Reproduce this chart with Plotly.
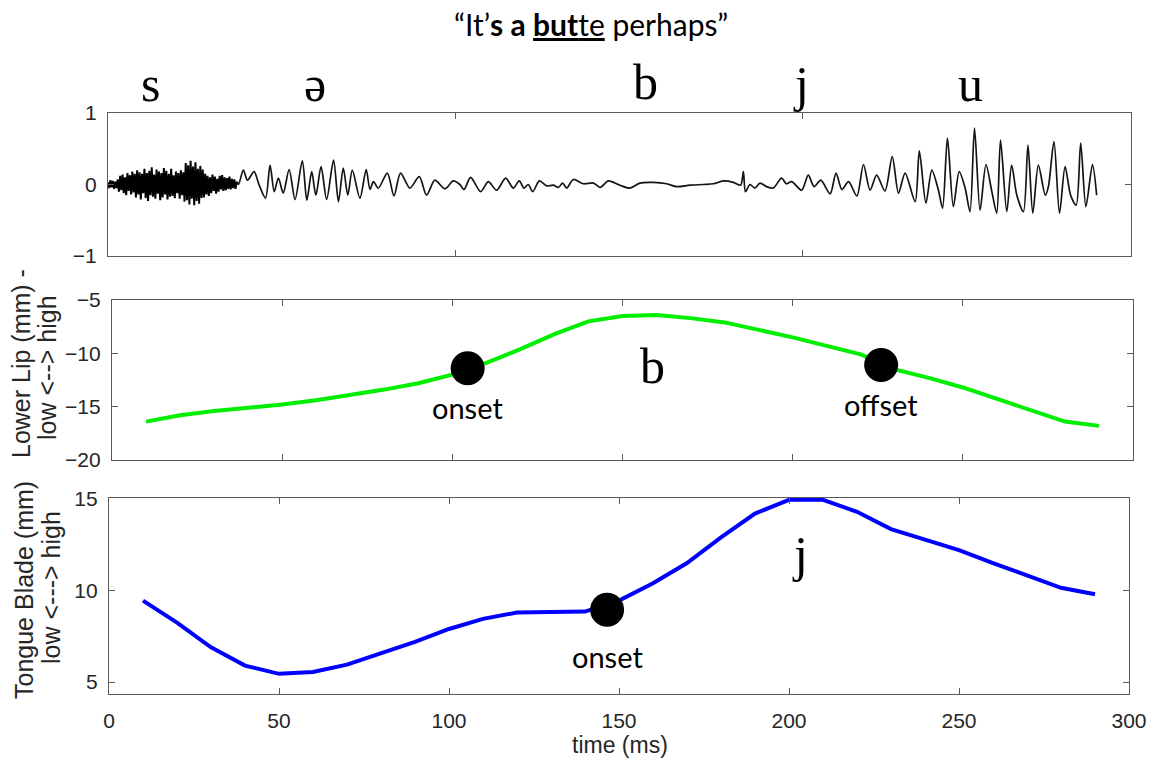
import numpy as np
import plotly.graph_objects as go

# ---------------- data ----------------
# Acoustic waveform: fricative noise for /s/, sampled every NOISE_STEP ms
NOISE_STEP = 0.35
noise_amp = [
    0.03, -0.05, 0.06, -0.04, 0.05, -0.06, 0.04, -0.05, 0.07,
    -0.10, 0.12, -0.08, 0.14, -0.12, 0.10, -0.15, 0.16, -0.09, 0.13, -0.14, 0.18, -0.11, 0.15,
    -0.18, 0.20, -0.14, 0.17, -0.21, 0.15, -0.12, 0.22, -0.19, 0.16, -0.23, 0.19, -0.15, 0.24,
    -0.17, 0.14, -0.20, 0.21, -0.13, 0.18, -0.22, 0.16, -0.18, 0.23, -0.14, 0.19, -0.21, 0.15,
    -0.17, 0.22, -0.16, 0.13, -0.19, 0.18, -0.12, 0.16, -0.20, 0.20, -0.15, 0.17,
    -0.24, 0.30, -0.22, 0.27, -0.28, 0.33, -0.20, 0.25, -0.29, 0.31, -0.23, 0.22, -0.27, 0.26,
    -0.19, 0.21, -0.18,
    0.15, -0.14, 0.12, -0.16, 0.10, -0.12, 0.14, -0.09, 0.11, -0.13, 0.08, -0.10, 0.12, -0.07,
    0.13, -0.09, 0.10,
    -0.08, 0.09, -0.06, 0.11, -0.07, 0.08, -0.05, 0.07, -0.06, 0.04,
]

# Voiced stretch: turning points (time in ms, amplitude)
voiced_t = [
    37.6, 39.0, 40.2, 42.1, 43.5, 45.4, 46.7, 47.9, 49.1, 50.5, 52.2, 53.9, 56.0, 57.3, 58.7,
    59.9, 61.4, 63.0, 65.0, 66.4, 67.8, 69.1, 70.4, 72.6, 74.4, 75.5, 76.5, 77.9, 80.5, 82.4,
    84.3, 87.0, 89.7, 91.8, 94.2, 97.1, 99.5, 101.4, 102.6, 104.5, 107.4, 109.6, 112.0, 114.6,
    116.8, 118.5, 119.9, 121.1, 122.4, 124.3, 126.4, 128.3, 129.8, 131.0, 132.2, 134.1, 137.0,
    139.9, 141.8, 144.2, 147.5, 150.4, 153.3, 157.2, 161.0, 163.9, 167.7, 171.6, 174.5, 177.3,
    180.2, 182.3, 183.1, 183.7, 185.0, 186.4, 187.9, 189.8, 191.7, 194.1, 195.5, 197.0, 199.9,
    201.8, 203.5, 205.4, 208.1, 209.8, 211.5, 213.4, 215.8, 217.7, 219.6, 221.5, 223.9, 226.0,
    227.8, 229.7, 232.6, 233.8, 235.7, 237.4, 239.3, 240.5, 241.9, 243.6, 245.3, 247.0, 248.4,
    249.7, 251.3, 253.0, 254.7, 256.1, 257.2, 259.0, 260.4, 261.9, 263.8, 265.1, 266.5, 268.1,
    270.1, 271.0, 272.6, 274.2, 275.8, 277.4, 279.0, 280.3, 281.8, 283.7, 284.9,
]
voiced_a = [
    0.00, 0.20, 0.06, 0.18, 0.00, -0.19, 0.27, -0.10, 0.09, -0.12, 0.21, -0.21, 0.33, -0.22, 0.18,
    -0.15, 0.25, -0.21, 0.34, -0.24, 0.23, -0.15, 0.20, -0.19, 0.21, -0.07, 0.04, -0.05, 0.16, -0.16,
    0.16, -0.05, 0.11, -0.15, 0.06, -0.06, 0.05, 0.00, -0.07, 0.10, -0.10, 0.04, -0.08, 0.09,
    -0.05, 0.05, -0.05, 0.00, -0.10, 0.05, -0.02, -0.01, -0.04, 0.02, -0.05, 0.07, 0.01,
    0.02, -0.04, 0.05, -0.01, -0.05, 0.02, 0.03, 0.01, -0.03, -0.01, 0.00, 0.01, 0.05,
    0.03, -0.01, 0.18, -0.10, 0.00, -0.05, 0.02, -0.03, -0.05, 0.09, 0.01, 0.04, -0.08,
    0.13, -0.03, 0.06, -0.13, 0.16, -0.07, 0.04, -0.16, 0.28, -0.08, 0.13, -0.09, 0.39,
    -0.12, 0.16, -0.24, 0.47, -0.26, 0.20, -0.08, -0.33, 0.65, -0.31, 0.18, -0.05, -0.38,
    0.79, -0.36, 0.28, -0.10, -0.40, 0.62, -0.38, 0.27, -0.15, -0.38, 0.55, -0.40, 0.27,
    -0.15, -0.03, 0.60, -0.40, 0.25, -0.15, -0.29, 0.58, -0.31, 0.28, -0.15,
]

# Articulator trajectories (time in ms)
lip_t = [10, 20, 30, 40, 50, 60, 70, 80, 90, 100, 110, 120, 130, 140, 150,
         160, 170, 180, 190, 200, 210, 220, 230, 240, 250, 260, 270, 280, 290]
lip_mm = [-16.4, -15.8, -15.4, -15.1, -14.8, -14.4, -13.9, -13.4, -12.8, -12.0, -10.9, -9.6,
          -8.2, -7.0, -6.5, -6.4, -6.7, -7.1, -7.8, -8.5, -9.3, -10.1, -11.5, -12.3, -13.2,
          -14.3, -15.4, -16.4, -16.8]
lip_event_t = [104.5, 226.0]
lip_event_mm = [-11.4, -11.1]
lip_event_lbl = ["onset", "offset"]

tb_t = [10, 20, 30, 40, 50, 60, 70, 80, 90, 100, 110, 120, 130, 140, 150,
        160, 170, 180, 190, 200, 210, 220, 230, 240, 250, 260, 270, 280, 290]
tb_mm = [9.45, 8.25, 6.9, 5.9, 5.45, 5.55, 5.95, 6.55, 7.2, 7.9, 8.45, 8.8, 8.8, 8.85, 9.45,
         10.4, 11.5, 12.9, 14.2, 14.95, 14.95, 14.3, 13.35, 12.75, 12.2, 11.5, 10.8, 10.15, 9.8]
tb_event_t = [146.5]
tb_event_mm = [8.95]
tb_event_lbl = ["onset"]

time_ticks = [0, 50, 100, 150, 200, 250, 300]

# ---------------- figure ----------------
W, H = 1153, 761


def px_x(p):
    return p / W


def px_y(p):
    return 1 - p / H


noise_t = list(np.arange(len(noise_amp)) * NOISE_STEP)

fig = go.Figure()
fig.add_trace(go.Scatter(x=noise_t, y=noise_amp, mode="lines",
                         line=dict(color="black", width=2),
                         xaxis="x", yaxis="y", hoverinfo="skip"))
fig.add_trace(go.Scatter(x=[noise_t[-1]] + voiced_t, y=[noise_amp[-1]] + voiced_a, mode="lines",
                         line=dict(color="#141414", width=1.7, shape="spline", smoothing=0.8),
                         xaxis="x", yaxis="y", hoverinfo="skip"))
fig.add_trace(go.Scatter(x=lip_t, y=lip_mm, mode="lines",
                         line=dict(color="#00ee00", width=4),
                         xaxis="x2", yaxis="y2"))
fig.add_trace(go.Scatter(x=lip_event_t, y=lip_event_mm, mode="markers",
                         marker=dict(color="black", size=34),
                         xaxis="x2", yaxis="y2"))
fig.add_trace(go.Scatter(x=tb_t, y=tb_mm, mode="lines",
                         line=dict(color="#0000ff", width=4),
                         xaxis="x3", yaxis="y3"))
fig.add_trace(go.Scatter(x=tb_event_t, y=tb_event_mm, mode="markers",
                         marker=dict(color="black", size=34),
                         xaxis="x3", yaxis="y3"))

axis_col = "#5a5a5a"
tick_font = dict(family="Liberation Sans, Arial, sans-serif", size=21, color="#262626")
common = dict(showline=True, linecolor=axis_col, linewidth=1.3, mirror="ticks",
              ticks="inside", ticklen=6, tickcolor=axis_col, tickwidth=1.3,
              showgrid=False, zeroline=False, tickfont=tick_font, fixedrange=True)

fig.update_layout(
    width=W, height=H,
    margin=dict(l=0, r=0, t=0, b=0, autoexpand=False),
    paper_bgcolor="white", plot_bgcolor="white",
    showlegend=False,
    xaxis=dict(domain=[px_x(108), px_x(1131)], range=[0, 294.8],
               tickvals=[100, 200], showticklabels=False, anchor="y", **common),
    yaxis=dict(domain=[px_y(256), px_y(113)], range=[-1, 1],
               tickvals=[-1, 0, 1], anchor="x", ticklabelstandoff=6, **common),
    xaxis2=dict(domain=[px_x(112), px_x(1133)], range=[0, 300],
                tickvals=time_ticks, showticklabels=False, anchor="y2", **common),
    yaxis2=dict(domain=[px_y(460), px_y(300)], range=[-20, -5],
                tickvals=[-20, -15, -10, -5], anchor="x2", ticklabelstandoff=6, **common),
    xaxis3=dict(domain=[px_x(109), px_x(1129)], range=[0, 300],
                tickvals=time_ticks, anchor="y3", ticklabelstandoff=8, **common),
    yaxis3=dict(domain=[px_y(694), px_y(498)], range=[4.35, 15.05],
                tickvals=[5, 10, 15], anchor="x3", ticklabelstandoff=6, **common),
)

ann = []
label_font = dict(family="Lato, 'Open Sans', sans-serif", size=29, color="black")
for t, v, s in zip(lip_event_t, lip_event_mm, lip_event_lbl):
    ann.append(dict(x=t, y=v, xref="x2", yref="y2", text=s, showarrow=False,
                    yshift=-39, font=label_font))
for t, v, s in zip(tb_event_t, tb_event_mm, tb_event_lbl):
    ann.append(dict(x=t, y=v, xref="x3", yref="y3", text=s, showarrow=False,
                    yshift=-47, font=label_font))


def paper_text(x, y, s, font, angle=0):
    return dict(x=px_x(x), y=px_y(y), xref="paper", yref="paper", text=s,
                xanchor="center", yanchor="middle", textangle=angle,
                showarrow=False, font=font)


# IPA segment labels
ipa_font = dict(family="Liberation Serif, 'DejaVu Serif', serif", size=50, color="black")
for x, y, s in [(150, 84, "s"), (315, 84, "ə"), (645, 82, "b"), (801, 84, "j"), (970, 84, "u"),
                (652, 366, "b"), (800, 554, "j")]:
    ann.append(paper_text(x, y, s, ipa_font))

# Title sentence
ann.append(paper_text(591, 24,
                      "\u201cIt\u2019<b>s a </b><b><u>but</u></b><u>te</u> perhaps\u201d",
                      dict(family="Lato, sans-serif", size=30, color="black")))

# Axis titles
title_font = dict(family="Liberation Sans, Arial, sans-serif", size=25, color="#262626")
ann += [
    paper_text(21, 364, "Lower Lip (mm) -", title_font, -90),
    paper_text(47, 368, "low <--> high", title_font, -90),
    paper_text(24, 590, "Tongue Blade (mm)", title_font, -90),
    paper_text(51, 588, "low <---> high", title_font, -90),
    paper_text(620, 745, "time (ms)", dict(family="Liberation Sans, Arial, sans-serif",
                                           size=23, color="#262626")),
]
fig.update_layout(annotations=ann)

fig.write_html("out.html", config={"displayModeBar": False})
